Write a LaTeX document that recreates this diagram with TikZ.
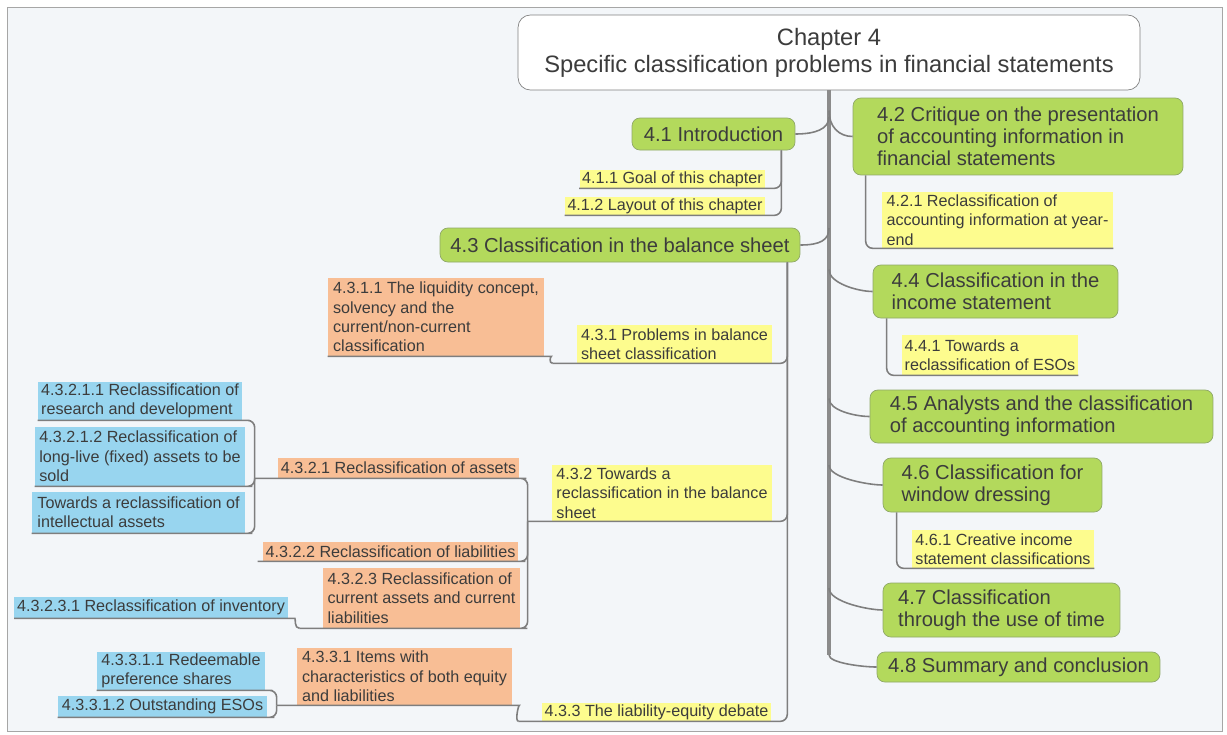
\documentclass[tikz,border=0pt]{standalone}
\usepackage{fontspec}
\setmainfont{Liberation Sans}
\usetikzlibrary{calc}
\definecolor{framefill}{HTML}{F3F6F9}
\definecolor{txt}{HTML}{3C3C3C}
\definecolor{topicgreen}{HTML}{B3D95C}
\definecolor{topicedge}{HTML}{8FA868}
\definecolor{subyellow}{HTML}{FDFC8E}
\definecolor{suborange}{HTML}{F8BE95}
\definecolor{subblue}{HTML}{98D5EF}
\definecolor{linegray}{HTML}{7E7E7E}

\tikzset{
  chapter/.style={draw=gray, fill=white, rounded corners=7pt, align=center, text=txt,
    font=\fontsize{13.5}{15.3}\selectfont},
  topic/.style={draw=topicedge, fill=topicgreen, rounded corners=4.5pt, align=left, text=txt,
    inner sep=2pt, font=\fontsize{11.5}{12.4}\selectfont},
  sub/.style={align=left, text=txt, inner xsep=1.5pt, inner ysep=0.5pt,
    font=\fontsize{9.2}{11}\selectfont},
  yel/.style={sub, fill=subyellow},
  ora/.style={sub, fill=suborange},
  blu/.style={sub, fill=subblue},
  link/.style={draw=linegray, line width=0.9pt, rounded corners=4pt},
  trunk/.style={draw=linegray!90, line width=1.8pt},
}

\begin{document}
\begin{tikzpicture}[x=0.02cm, y=-0.02cm]
\useasboundingbox (0,0) rectangle (1227,734);
\path[fill=framefill, draw=gray!70] (7,7) rectangle (1222,731);

\path (829,52.5) node[chapter, minimum width=12.44cm, minimum height=1.5cm] (root) {Chapter 4\\Specific classification problems in financial statements};

\path (713.5,134) node[topic, minimum width=3.26cm, minimum height=0.64cm] (n41) {4.1 Introduction};
\path (1018,136.5) node[topic, minimum width=6.6cm, minimum height=1.54cm] (n42) {4.2 Critique on the presentation\\of accounting information in\\financial statements};
\path (620,245) node[topic, minimum width=7.2cm, minimum height=0.68cm] (n43) {4.3 Classification in the balance sheet};
\path (995.5,291.5) node[topic, minimum width=4.9cm, minimum height=1.06cm] (n44) {4.4 Classification in the\\income statement};
\path (1041.5,416.5) node[topic, minimum width=6.86cm, minimum height=1.06cm] (n45) {4.5 Analysts and the classification\\of accounting information};
\path (992.5,485) node[topic, minimum width=4.38cm, minimum height=1.08cm] (n46) {4.6 Classification for\\window dressing};
\path (1001.5,610) node[topic, minimum width=4.74cm, minimum height=1.08cm] (n47) {4.7 Classification\\through the use of time};
\path (1018.5,667) node[topic, minimum width=5.66cm, minimum height=0.6cm] (n48) {4.8 Summary and conclusion};

\path (672.5,179) node[yel, minimum width=3.62cm, minimum height=0.36cm] (n411) {4.1.1 Goal of this chapter};
\path (665,206) node[yel, minimum width=3.92cm, minimum height=0.36cm] (n412) {4.1.2 Layout of this chapter};
\path (997.5,220) node[yel, minimum width=4.62cm, minimum height=1.12cm] (n421) {4.2.1 Reclassification of\\accounting information at year-\\end};
\path (674.5,344) node[yel, minimum width=3.9cm, minimum height=0.76cm] (n431) {4.3.1 Problems in balance\\sheet classification};
\path (662,493) node[yel, minimum width=4.4cm, minimum height=1.12cm] (n432) {4.3.2 Towards a\\reclassification in the balance\\sheet};
\path (656.5,712) node[yel, minimum width=4.46cm, minimum height=0.36cm] (n433) {4.3.3 The liability-equity debate};
\path (990,355) node[yel, minimum width=3.52cm, minimum height=0.8cm] (n441) {4.4.1 Towards a\\reclassification of ESOs};
\path (1003,549) node[yel, minimum width=3.64cm, minimum height=0.76cm] (n461) {4.6.1 Creative income\\statement classifications};

\path (436,317) node[ora, minimum width=4.32cm, minimum height=1.56cm] (n4311) {4.3.1.1 The liquidity concept,\\solvency and the\\current/non-current\\classification};
\path (398.5,468) node[ora, minimum width=4.82cm, minimum height=0.4cm] (n4321) {4.3.2.1 Reclassification of assets};
\path (390.5,551.5) node[ora, minimum width=5.1cm, minimum height=0.38cm] (n4322) {4.3.2.2 Reclassification of liabilities};
\path (421.5,598) node[ora, minimum width=3.94cm, minimum height=1.2cm] (n4323) {4.3.2.3 Reclassification of\\current assets and current\\liabilities};
\path (404.5,676.5) node[ora, minimum width=4.3cm, minimum height=1.14cm] (n4331) {4.3.3.1 Items with\\characteristics of both equity\\and liabilities};

\path (140,401) node[blu, minimum width=4.08cm, minimum height=0.76cm] (n43211) {4.3.2.1.1 Reclassification of\\research and development};
\path (140,456.5) node[blu, minimum width=4.2cm, minimum height=1.18cm] (n43212) {4.3.2.1.2 Reclassification of\\long-live (fixed) assets to be\\sold};
\path (138.5,512.5) node[blu, minimum width=4.26cm, minimum height=0.82cm] (n43213) {Towards a reclassification of\\intellectual assets};
\path (151,607.5) node[blu, minimum width=5.44cm, minimum height=0.42cm] (n43231) {4.3.2.3.1 Reclassification of inventory};
\path (181,671) node[blu, minimum width=3.36cm, minimum height=0.76cm] (n43311) {4.3.3.1.1 Redeemable\\preference shares};
\path (162.5,706.5) node[blu, minimum width=4.18cm, minimum height=0.42cm] (n43312) {4.3.3.1.2 Outstanding ESOs};

\coordinate (tend) at ($(n48.west -| root.south)+(0,-12)$);
\draw[trunk] (root.south) -- (tend);
\draw[link] (tend) .. controls +(0,8) and +(-14,0) .. (n48.west);
\draw[link] (n41.east) .. controls +(20,0) and +(0,12) .. ($(n41.east -| root.south)+(0,-17)$);
\draw[link] (n43.east) .. controls +(20,0) and +(0,12) .. ($(n43.east -| root.south)+(0,-17)$);
\draw[link] ($(n42.west -| root.south)+(0,-26)$) .. controls +(0,16) and +(-14,0) .. (n42.west);
\draw[link] ($(n44.west -| root.south)+(0,-22)$) .. controls +(0,14) and +(-14,0) .. (n44.west);
\draw[link] ($(n45.west -| root.south)+(0,-18)$) .. controls +(0,12) and +(-14,0) .. (n45.west);
\draw[link] ($(n46.west -| root.south)+(0,-20)$) .. controls +(0,13) and +(-14,0) .. (n46.west);
\draw[link] ($(n47.west -| root.south)+(0,-22)$) .. controls +(0,14) and +(-14,0) .. (n47.west);

\coordinate (c41) at ($(n41.south east)+(-14,0)$);
\draw[link] (c41) |- (n411.south west);
\draw[link] (c41) |- (n412.south west);

\coordinate (c42) at ($(n42.south west)+(13,0)$);
\draw[link] (c42) |- (n421.south east);
\coordinate (c44) at ($(n44.south west)+(14,0)$);
\draw[link] (c44) |- (n441.south east);
\coordinate (c46) at ($(n46.south west)+(14,0)$);
\draw[link] (c46) |- (n461.south east);

\coordinate (c43) at ($(n43.south east)+(-13,0)$);
\coordinate (c431) at ($(n431.south west)+(-24,0)$);
\coordinate (c432) at ($(n432.south west)+(-24,0)$);
\coordinate (c433) at ($(n433.south west)+(-23,0)$);
\draw[link] (c43) |- (n431.south east) -- (c431);
\draw[link] (c43) |- (n432.south east) -- (c432);
\draw[link] (c43) |- (n433.south east) -- (c433);

\draw[link] (n4311.south west) -- (n4311.south east) .. controls +(6,0) and +(-4,0) .. (c431);

\coordinate (c4321) at ($(n4321.south west)+(-23,0)$);
\coordinate (c4323) at ($(n4323.south west)+(-23,0)$);
\draw[link] (c4321) -- (n4321.south east) -| (c432);
\draw[link] ($(n4322.south west)+(-5,0)$) -- (n4322.south east) -| (c432);
\draw[link] (c4323) -- (n4323.south east) -| (c432);

\draw[link] (n43211.south west) -- (n43211.south east) -| (c4321);
\draw[link] (n43212.south west) -- (n43212.south east) -| (c4321);
\draw[link] (n43213.south west) -- (n43213.south east) -| (c4321);
\draw[link] (n43231.south west) -- (n43231.south east) .. controls +(8,0) and +(-6,0) .. (c4323);

\coordinate (c4331) at ($(n4331.south west)+(-20,0)$);
\draw[link] (c4331) -- (n4331.south east) .. controls +(6,0) and +(-4,0) .. (c433);
\draw[link] (n43311.south west) -- (n43311.south east) -| (c4331);
\draw[link] (n43312.south west) -- (n43312.south east) -| (c4331);
\end{tikzpicture}
\end{document}
